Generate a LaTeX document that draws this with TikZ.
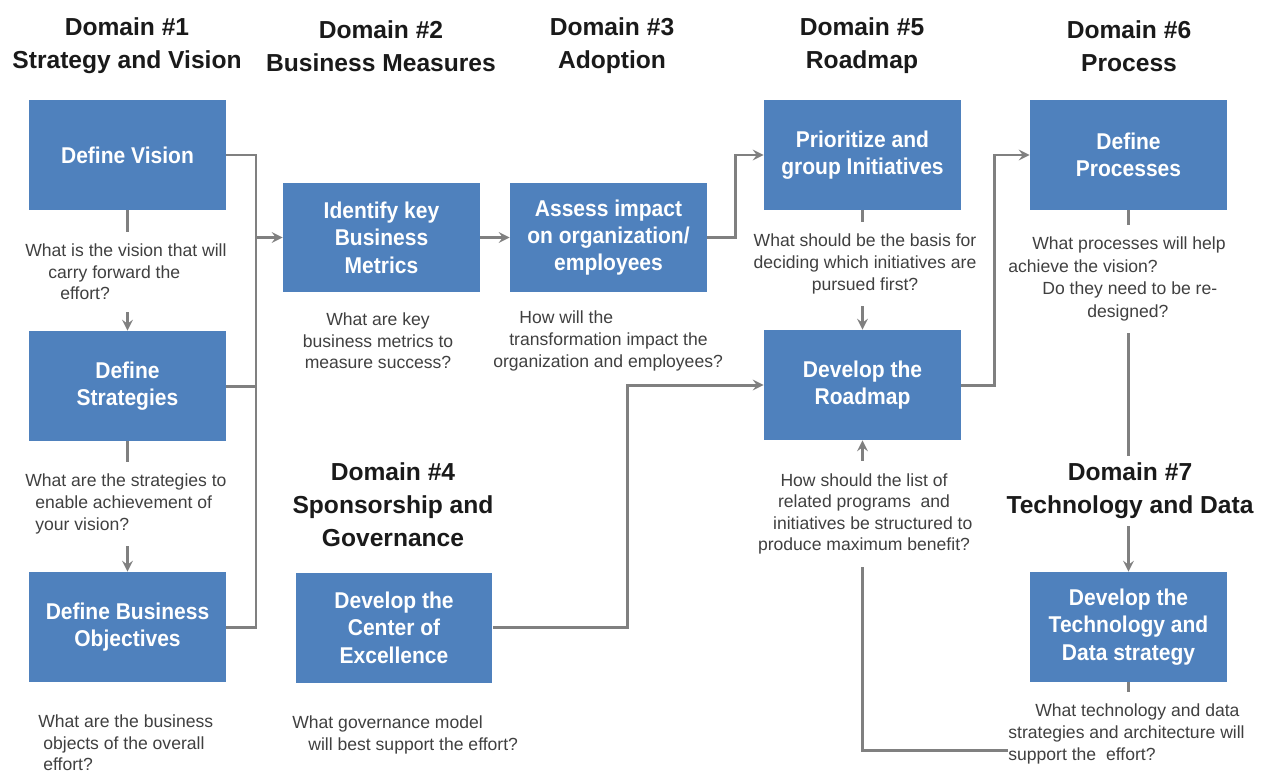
\documentclass[tikz,border=0pt]{standalone}
\usepackage{fontspec}
\setmainfont{Liberation Sans}
\newfontfamily\boxfont[FakeStretch=0.92]{Liberation Sans}
\usetikzlibrary{arrows,positioning,backgrounds}

\definecolor{boxblue}{HTML}{4F81BD}
\definecolor{linegray}{HTML}{808080}
\definecolor{qgray}{HTML}{404040}
\definecolor{titleblack}{HTML}{1A1A1A}

\begin{document}
\begin{tikzpicture}[
    x=0.02cm, y=-0.02cm,
    box/.style={rectangle, fill=boxblue, minimum width=3.94cm, minimum height=2.2cm, inner sep=0pt, align=center, text=white, font=\boxfont\fontsize{13}{15.6}\selectfont\bfseries},
    domaintitle/.style={fill=white, inner sep=4pt, align=center, text=titleblack, font=\fontsize{14}{18.8}\selectfont\bfseries},
    question/.style={fill=white, inner xsep=0pt, inner ysep=7pt, text=qgray, font=\fontsize{10}{12.3}\selectfont},
    link/.style={draw=linegray, line width=1.7pt},
    pointer/.style={link, ->, >=stealth}
]
    \useasboundingbox (0,0) rectangle (1266,778);

    % Domain titles
    \node[domaintitle] (t1) at (127,46) {Domain \#1\\Strategy and Vision};
    \node[domaintitle] (t2) at (381,46) {Domain \#2\\Business Measures};
    \node[domaintitle] (t3) at (612,46) {Domain \#3\\Adoption};
    \node[domaintitle] (t5) at (862,46) {Domain \#5\\Roadmap};
    \node[domaintitle] (t6) at (1129,46) {Domain \#6\\Process};
    \node[domaintitle] (t4) at (393,505) {Domain \#4\\Sponsorship and\\Governance};
    \node[domaintitle] (t7) at (1130,491) {Domain \#7\\Technology and Data};

    % Domain 1
    \node[box] (dv) at (127.5,155) {Define Vision};
    \node[box] (ds) at (127.5,386) {Define\\Strategies};
    \node[box] (dbo) at (127.5,627) {Define Business\\Objectives};

    % Domains 2 and 3
    \node[box] (ikm) at (381.5,237.5) {Identify key\\Business\\Metrics};
    \node[box] (ai) at (608.5,237.5) {Assess impact\\on organization/\\employees};

    % Domain 4
    \node[box] (coe) at (394,627.5) {Develop the\\Center of\\Excellence};

    % Domain 5
    \node[box] (pgi) at (862.5,155) {Prioritize and\\group Initiatives};
    \node[box] (rm) at (862.5,385) {Develop the\\Roadmap};

    % Domains 6 and 7
    \node[box] (dp) at (1128.5,155) {Define\\Processes};
    \node[box] (tech) at (1128.5,627) {Develop the\\Technology and\\Data strategy};

    % Questions
    \node[question, align=left, anchor=west] (qdv) at (25,272)
        {What is the vision that will\\\hspace*{0.46cm}carry forward the\\\hspace*{0.7cm}effort?};
    \node[question, align=left, anchor=west] (qds) at (25,504)
        {What are the strategies to\\\hspace*{0.2cm}enable achievement of\\\hspace*{0.2cm}your vision?};
    \node[question, align=left, anchor=west] (qdbo) at (38,743)
        {What are the business\\\hspace*{0.1cm}objects of the overall\\\hspace*{0.1cm}effort?};
    \node[question, align=center] (qikm) at (378,341)
        {What are key\\business metrics to\\measure success?};
    \node[question, align=left, anchor=west] (qai) at (493,341)
        {\hspace*{0.52cm}How will the\\\hspace*{0.32cm}transformation impact the\\organization and employees?};
    \node[question, align=left, anchor=west] (qco) at (292,735)
        {What governance model\\\hspace*{0.32cm}will best support the effort?};
    \node[question, align=center] (qpr) at (865,264)
        {What should be the basis for\\deciding which initiatives are\\pursued first?};
    \node[question, align=center] (qrm) at (864,514)
        {How should the list of\\related programs \ and\\\hspace*{0.35cm}initiatives be structured to\\produce maximum benefit?};
    \node[question, align=left, anchor=west, font=\fontsize{10}{12.9}\selectfont] (qdp) at (1008,279)
        {\hspace*{0.48cm}What processes will help\\achieve the vision?\\\hspace*{0.68cm}Do they need to be re-\\\hspace*{1.58cm}designed?};
    \node[question, align=left, anchor=west] (qtech) at (1008,734)
        {\hspace*{0.54cm}What technology and data\\strategies and architecture will\\support the \ effort?};

    % Connectors
    \coordinate (bus) at (256,237.5);
    \begin{pgfonlayer}{background}
        \fill[white] (0,0) rectangle (1266,778);
        \draw[link] (dv.east) -- (dv.east -| bus) -- (dbo.east -| bus) -- (dbo.east);
        \draw[link] (ds.east) -- (ds.east -| bus);
        \draw[pointer] (bus) -- (ikm.west);
        \draw[pointer] (dv.south) -- (ds.north);
        \draw[pointer] (ds.south) -- (dbo.north);

        \draw[pointer] (ikm.east) -- (ai.west);
        \draw[pointer] (ai.east) -- ++(28,0) |- (pgi.west);
        \draw[pointer] (coe.east) -- ++(135,0) |- (rm.west);

        \draw[pointer] (pgi.south) -- (rm.north);
        \draw[pointer] (rm.east) -- ++(33,0) |- (dp.west);

        \draw[pointer] (dp.south) -- (tech.north);
        \draw[link] (tech.south) -- (tech.south |- qtech.center);
        \draw[pointer] ([yshift=-0.32cm]qtech.west) -| (rm.south);
    \end{pgfonlayer}
\end{tikzpicture}
\end{document}
